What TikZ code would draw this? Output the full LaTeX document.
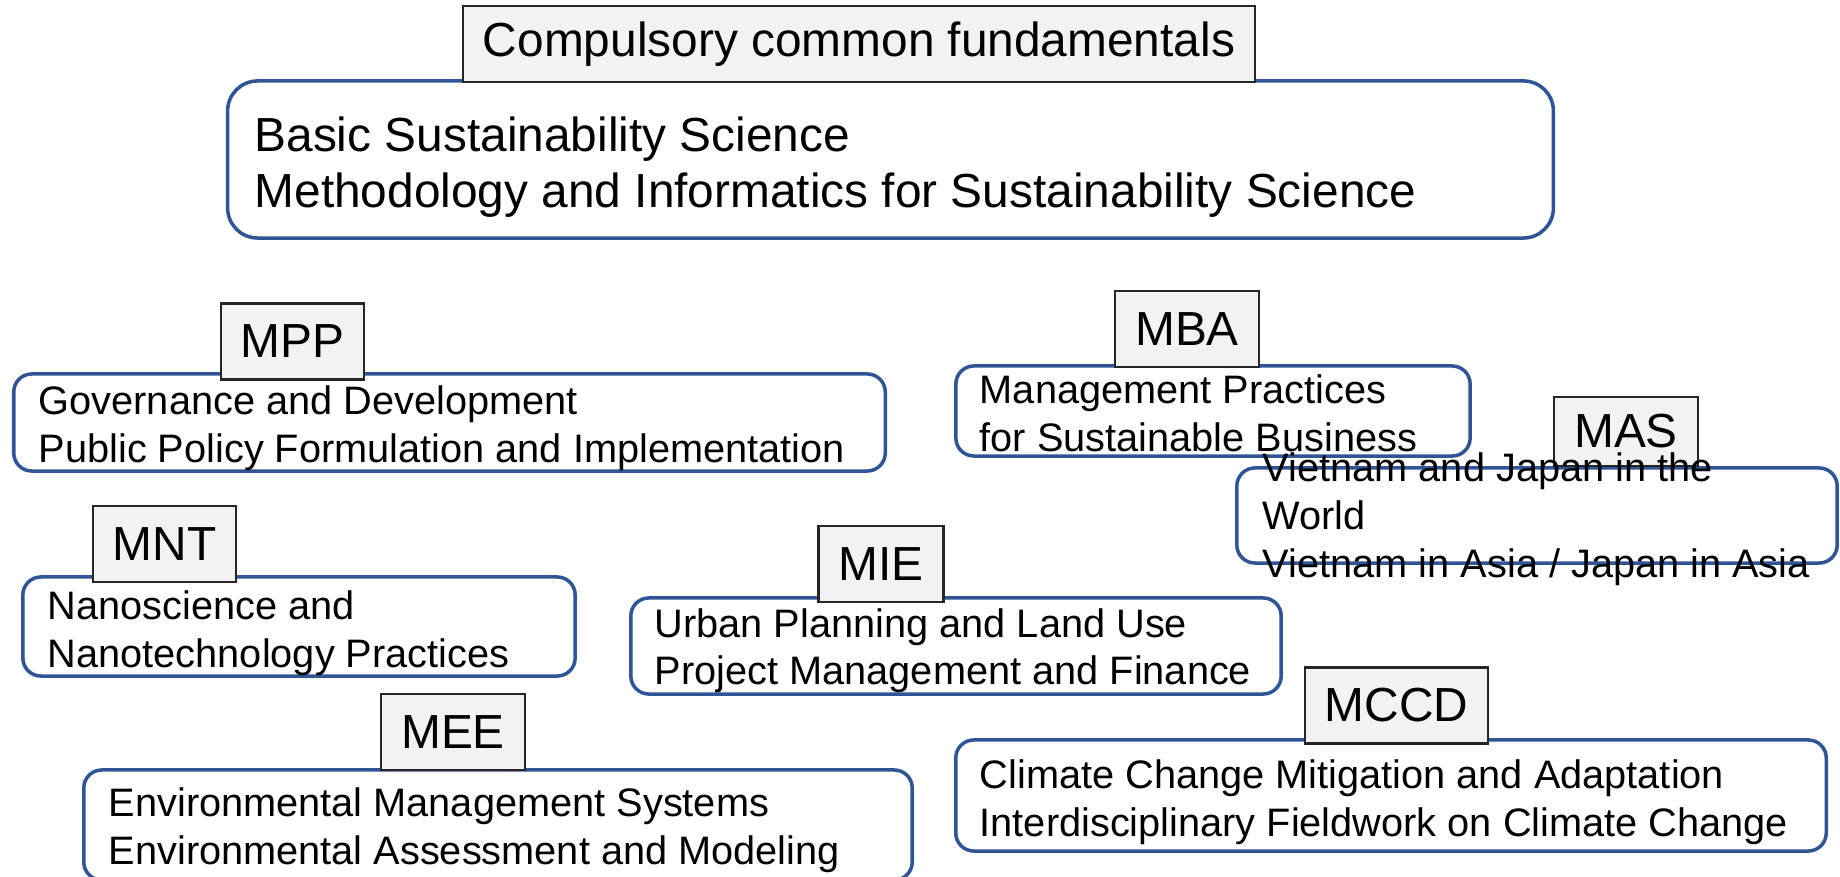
\documentclass[tikz,border=0pt]{standalone}
\usepackage{fontspec}
\setmainfont{Liberation Sans}
\usepackage{tikz}
\usetikzlibrary{positioning}
\usepackage{xcolor}
\definecolor{boxblue}{RGB}{47,85,151}
\definecolor{tagfill}{RGB}{242,242,242}
\tikzset{%
    course/.style={%
        align=left, anchor=west, inner sep=0pt,
        font=\fontsize{11.3}{13.6}\selectfont
    }
}

\begin{document}
\begin{tikzpicture}[x=0.01cm,y=-0.01cm,
  prog box/.style={draw=boxblue,line width=1pt,rounded corners=0.18cm,inner sep=0pt},
  tag/.style={draw=black!85,fill=tagfill,line width=0.6pt,inner xsep=0.2cm,
    inner ysep=0pt,minimum height=0.76cm,font=\fontsize{13.6}{16}\selectfont}]

  \useasboundingbox (0,0) rectangle (1840,877);

  % compulsory part
  \node[prog box,rounded corners=0.3cm,minimum width=13.25cm,minimum height=1.57cm] (core) at (890.5,159.5) {};
  \node[course,font=\fontsize{13.6}{15.9}\selectfont] (core text) at ([xshift=0.28cm,yshift=-0.08cm]core.west)
    {Basic Sustainability Science\\Methodology and Informatics for Sustainability Science};
  \node[tag] (common) at (859,44) {Compulsory common fundamentals};

  % programme boxes
  \node[prog box,minimum width=8.71cm,minimum height=0.97cm] (mpp) at (449.5,422.5) {};
  \node[prog box,minimum width=5.14cm,minimum height=0.90cm] (mba) at (1213,411) {};
  \node[prog box,minimum width=6.00cm,minimum height=0.95cm] (mas) at (1537,515.5) {};
  \node[prog box,minimum width=5.52cm,minimum height=0.99cm] (mnt) at (299,626.5) {};
  \node[prog box,minimum width=6.50cm,minimum height=0.96cm] (mie) at (956,646) {};
  \node[prog box,minimum width=8.70cm,minimum height=1.11cm] (mccd) at (1391,795.5) {};
  \node[prog box,minimum width=8.28cm,minimum height=1.10cm] (mee) at (498,825) {};

  % programme tags
  \node[tag] (mpp tag) at (292.5,341.5) {MPP};
  \node[tag] (mba tag) at (1187,329) {MBA};
  \node[tag,minimum height=0.69cm] (mas tag) at (1626,431.5) {MAS};
  \node[tag] (mnt tag) at (164.5,544) {MNT};
  \node[tag] (mie tag) at (881,564) {MIE};
  \node[tag] (mccd tag) at (1396.5,705.5) {MCCD};
  \node[tag] (mee tag) at (453,732) {MEE};

  % course lists
  \node[course] (mpp text) at ([xshift=0.26cm,yshift=-0.055cm]mpp.west)
    {Governance and Development\\Public Policy Formulation and Implementation};
  \node[course] (mba text) at ([xshift=0.25cm,yshift=-0.023cm]mba.west)
    {Management Practices\\for Sustainable Business};
  \node[course] (mas text) at ([xshift=0.27cm,yshift=-0.035cm]mas.west)
    {Vietnam and Japan in the\\World\\Vietnam in Asia / Japan in Asia};
  \node[course] (mnt text) at ([xshift=0.26cm,yshift=-0.065cm]mnt.west)
    {Nanoscience and\\Nanotechnology Practices};
  \node[course] (mie text) at ([xshift=0.25cm,yshift=-0.047cm]mie.west)
    {Urban Planning and Land Use\\Project Management and Finance};
  \node[course] (mccd text) at ([xshift=0.25cm,yshift=-0.065cm]mccd.west)
    {Climate Change Mitigation and Adaptation\\Interdisciplinary Fieldwork on Climate Change};
  \node[course] (mee text) at ([xshift=0.26cm,yshift=-0.053cm]mee.west)
    {Environmental Management Systems\\Environmental Assessment and Modeling};
\end{tikzpicture}
\end{document}
